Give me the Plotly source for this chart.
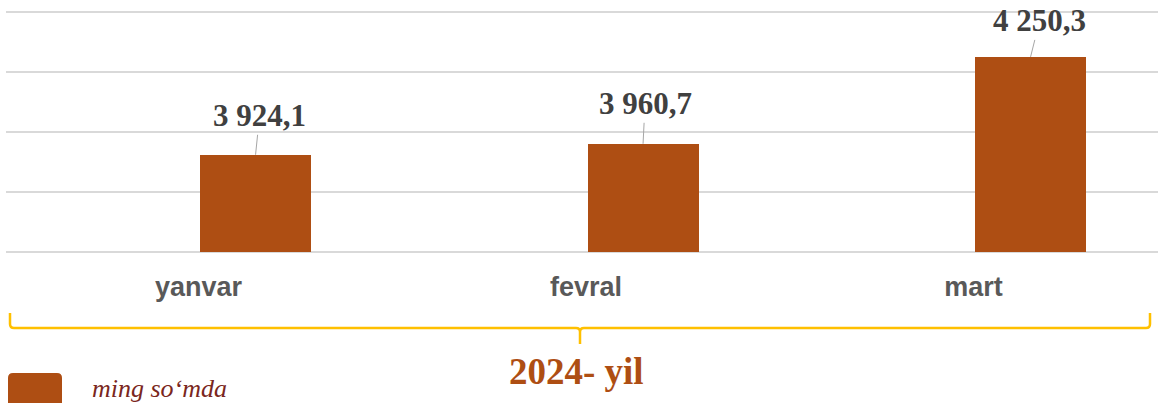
import plotly.graph_objects as go

categories = ["yanvar", "fevral", "mart"]
values = [3924.1, 3960.7, 4250.3]
value_labels = ["3 924,1", "3 960,7", "4 250,3"]
year_label = "2024- yil"
unit_label = "ming so‘mda"
axis_base = 3600
grid_vals = [3600, 3800, 4000, 4200, 4400]

W, H = 1158, 403
L, R, T, B = 6, 0, 2, 141
plot_w = W - L - R
plot_h = H - T - B          # 260 px
px_per_unit = 0.3
y_lo = axis_base - (H - B - 252) / px_per_unit
y_hi = y_lo + plot_h / px_per_unit

# x: category spacing ~387.5 px, category 0 at pixel 198.5
px_per_cat = 387.5
x0 = -(198.5 - L) / px_per_cat
x1 = x0 + plot_w / px_per_cat
bar_w = 111 / px_per_cat

bar_color = "#AE4E13"

def px_x(p):
    return (p - L) / plot_w

def px_y(p):
    return (T + plot_h - p) / plot_h

fig = go.Figure()
fig.add_trace(go.Bar(
    x=list(range(len(categories))),
    y=[v - axis_base for v in values],
    base=axis_base,
    width=bar_w,
    offset=0.004,
    marker=dict(color=bar_color, line=dict(width=0)),
    hoverinfo="skip",
    showlegend=False,
))

# data labels with leader lines
label_offsets = [(4, -39), (2, -40), (9, -36)]
for i, (v, t) in enumerate(zip(values, value_labels)):
    ax, ay = label_offsets[i]
    fig.add_annotation(
        x=i + 0.004 + bar_w / 2, y=v, xref="x", yref="y",
        text=f"<b>{t}</b>", showarrow=True, arrowhead=0, arrowwidth=1,
        arrowcolor="#A6A6A6", ax=ax, ay=ay, standoff=0,
        font=dict(family="Liberation Serif", size=31, color="#404040"),
    )

# bracket
bracket_color = "#FFC000"
xl, xr, xm = px_x(10), px_x(1150), px_x(580)
yt, yh, yb = px_y(313), px_y(328), px_y(344)
r = 4 / plot_w
rv = 4 / plot_h
path = (f"M {xl},{yt} L {xl},{yh + rv} Q {xl},{yh} {xl + r},{yh} "
        f"L {xm - r},{yh} Q {xm},{yh} {xm},{yh - rv} L {xm},{yb} "
        f"M {xm},{yh - rv} Q {xm},{yh} {xm + r},{yh} "
        f"L {xr - r},{yh} Q {xr},{yh} {xr},{yh + rv} L {xr},{yt}")
fig.add_shape(type="path", path=path, xref="paper", yref="paper",
              line=dict(color=bracket_color, width=2.5))

# year label
fig.add_annotation(
    x=px_x(576), y=px_y(371), xref="paper", yref="paper",
    text=f"<b>{year_label}</b>", showarrow=False,
    font=dict(family="Liberation Serif", size=37, color=bar_color),
    xanchor="center", yanchor="middle",
)

# legend swatch + text
fig.add_shape(type="path", xref="paper", yref="paper",
              path=(f"M {px_x(8)},{px_y(420)} L {px_x(8)},{px_y(378)} "
                    f"Q {px_x(8)},{px_y(373)} {px_x(13)},{px_y(373)} "
                    f"L {px_x(57)},{px_y(373)} Q {px_x(62)},{px_y(373)} {px_x(62)},{px_y(378)} "
                    f"L {px_x(62)},{px_y(420)} Z"),
              fillcolor=bar_color, line=dict(width=0))
fig.add_annotation(
    x=px_x(90), y=px_y(388), xref="paper", yref="paper",
    text=f"<i>{unit_label}</i>", showarrow=False,
    font=dict(family="Liberation Serif", size=26, color="#7A2620"),
    xanchor="left", yanchor="middle",
)

fig.update_layout(
    width=W, height=H,
    margin=dict(l=L, r=R, t=T, b=B),
    paper_bgcolor="white", plot_bgcolor="white",
    bargap=0,
    xaxis=dict(
        range=[x0, x1], tickmode="array",
        tickvals=list(range(len(categories))), ticktext=categories,
        showgrid=False, zeroline=False, showline=False, ticks="",
        tickfont=dict(family="Liberation Sans", size=27, color="#595959",
                      weight="bold"),
        ticklabelstandoff=6,
    ),
    yaxis=dict(
        range=[y_lo, y_hi], tickmode="array", tickvals=grid_vals,
        showticklabels=False, showgrid=True, gridcolor="#D9D9D9",
        gridwidth=2, zeroline=False, showline=False, ticks="",
    ),
)

fig.write_html("out.html",
               config={"displayModeBar": False, "staticPlot": True},
               post_script="document.body.style.margin='0';"
                           "document.body.style.overflow='hidden';")
